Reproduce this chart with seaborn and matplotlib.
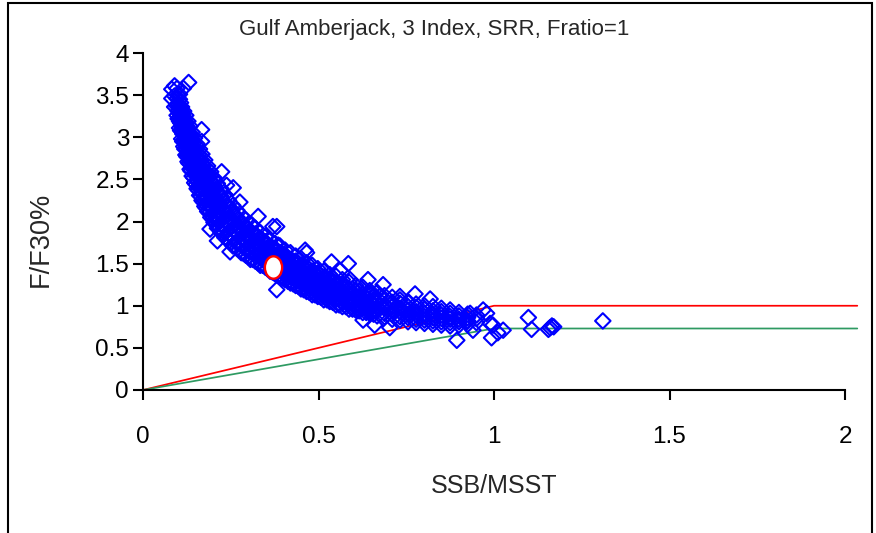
import numpy as np
import pandas as pd
import matplotlib
matplotlib.use("Agg")
import matplotlib.pyplot as plt
from matplotlib.path import Path
from matplotlib.patches import Rectangle
from matplotlib.ticker import FuncFormatter
import seaborn as sns

# ---------------- data ----------------
title = "Gulf Amberjack, 3 Index, SRR, Fratio=1"
x_label = "SSB/MSST"
y_label = "F/F30%"

# Monte-Carlo cloud, grouped by SSB/MSST column: F/F30% values at each column
col_ssb = [0.082, 0.090, 0.097, 0.104, 0.110, 0.116, 0.122, 0.128, 0.134, 0.140,
           0.147, 0.154, 0.161, 0.168, 0.176, 0.184, 0.193, 0.202, 0.212, 0.222,
           0.233, 0.244, 0.256, 0.268, 0.280, 0.293, 0.306, 0.320, 0.334, 0.348,
           0.362, 0.376, 0.390, 0.405, 0.420, 0.435, 0.450, 0.466, 0.482, 0.498,
           0.515, 0.532, 0.550, 0.568, 0.587, 0.606, 0.626, 0.646, 0.667, 0.688,
           0.710, 0.732, 0.755, 0.778, 0.802, 0.826, 0.850, 0.875, 0.900, 0.925,
           0.950]
col_f = [
    [3.46, 3.57],
    [3.36, 3.49, 3.61],
    [3.26, 3.37, 3.46, 3.58],
    [3.11, 3.19, 3.28, 3.35, 3.45, 3.51],
    [2.98, 3.07, 3.13, 3.22, 3.29, 3.36],
    [2.89, 2.97, 3.06, 3.13, 3.24, 3.31],
    [2.79, 2.90, 2.97, 3.08, 3.16, 3.26],
    [2.71, 2.80, 2.91, 2.99, 3.10, 3.19],
    [2.62, 2.73, 2.82, 2.93, 3.02, 3.13],
    [2.54, 2.64, 2.76, 2.85, 2.97, 3.06],
    [2.46, 2.58, 2.67, 2.79, 2.88, 2.99],
    [2.39, 2.49, 2.61, 2.70, 2.82, 2.92],
    [2.31, 2.43, 2.52, 2.64, 2.74, 2.86],
    [2.25, 2.35, 2.47, 2.56, 2.69, 2.80],
    [2.18, 2.30, 2.39, 2.51, 2.61, 2.73],
    [2.12, 2.22, 2.34, 2.43, 2.56, 2.66],
    [2.05, 2.17, 2.26, 2.38, 2.48, 2.59],
    [1.99, 2.09, 2.21, 2.30, 2.43, 2.52],
    [1.92, 2.04, 2.13, 2.25, 2.35, 2.45],
    [1.87, 1.97, 2.08, 2.18, 2.30, 2.39],
    [1.81, 1.92, 2.01, 2.13, 2.22, 2.32],
    [1.77, 1.85, 1.97, 2.05, 2.17, 2.25],
    [1.71, 1.82, 1.90, 2.01, 2.09, 2.19],
    [1.68, 1.76, 1.87, 1.94, 2.05, 2.13],
    [1.63, 1.73, 1.80, 1.91, 1.98, 2.07],
    [1.60, 1.67, 1.77, 1.84, 1.94, 2.02],
    [1.55, 1.64, 1.71, 1.81, 1.88, 1.97],
    [1.53, 1.59, 1.68, 1.75, 1.85, 1.92],
    [1.48, 1.57, 1.63, 1.72, 1.79, 1.87],
    [1.46, 1.52, 1.61, 1.67, 1.76, 1.82],
    [1.41, 1.50, 1.56, 1.65, 1.70, 1.78],
    [1.38, 1.45, 1.53, 1.60, 1.68, 1.74],
    [1.34, 1.42, 1.48, 1.57, 1.63, 1.71],
    [1.31, 1.37, 1.46, 1.52, 1.60, 1.66],
    [1.27, 1.35, 1.41, 1.49, 1.55, 1.63],
    [1.24, 1.30, 1.39, 1.44, 1.53, 1.59],
    [1.20, 1.28, 1.34, 1.42, 1.48, 1.56],
    [1.17, 1.23, 1.32, 1.37, 1.46, 1.51],
    [1.13, 1.21, 1.27, 1.35, 1.41, 1.48],
    [1.11, 1.16, 1.25, 1.30, 1.39, 1.44],
    [1.07, 1.14, 1.20, 1.28, 1.34, 1.41],
    [1.05, 1.10, 1.18, 1.23, 1.32, 1.37],
    [1.01, 1.08, 1.14, 1.21, 1.27, 1.35],
    [0.99, 1.04, 1.12, 1.17, 1.25, 1.31],
    [0.96, 1.03, 1.08, 1.15, 1.20, 1.28],
    [0.95, 0.99, 1.06, 1.11, 1.18, 1.24],
    [0.92, 0.98, 1.03, 1.09, 1.14, 1.22],
    [0.91, 0.95, 1.01, 1.06, 1.13, 1.18],
    [0.88, 0.94, 0.98, 1.04, 1.09, 1.16],
    [0.87, 0.91, 0.97, 1.01, 1.08, 1.12],
    [0.84, 0.90, 0.94, 0.99, 1.04, 1.10],
    [0.83, 0.87, 0.93, 0.97, 1.03, 1.07],
    [0.81, 0.86, 0.90, 0.95, 0.99, 1.05],
    [0.80, 0.84, 0.89, 0.93, 0.98, 1.02],
    [0.79, 0.83, 0.87, 0.91, 0.96, 1.00],
    [0.78, 0.82, 0.86, 0.90, 0.94, 0.99],
    [0.77, 0.81, 0.85, 0.89, 0.93, 0.97],
    [0.76, 0.80, 0.84, 0.87, 0.91, 0.95],
    [0.77, 0.81, 0.84, 0.88, 0.92],
    [0.78, 0.82, 0.86, 0.90],
    [0.80, 0.85, 0.89],
]

# second pass of runs lying between the columns above (dense core of the cloud)
mid_ssb = [0.100, 0.107, 0.113, 0.119, 0.125, 0.131, 0.137, 0.144, 0.151, 0.158,
           0.165, 0.172, 0.180, 0.189, 0.198, 0.207, 0.217, 0.228, 0.239, 0.250,
           0.262, 0.274, 0.287, 0.300, 0.313, 0.327, 0.341, 0.355, 0.369, 0.383,
           0.398, 0.413, 0.428, 0.443, 0.458, 0.474, 0.490, 0.507, 0.524, 0.541,
           0.559, 0.578, 0.597, 0.616, 0.636, 0.657]
mid_f = [
    [3.22, 3.31, 3.40, 3.50],
    [3.08, 3.17, 3.25, 3.33, 3.41],
    [2.95, 3.04, 3.11, 3.19, 3.27],
    [2.86, 2.94, 3.03, 3.11, 3.20],
    [2.77, 2.86, 2.95, 3.04, 3.13],
    [2.69, 2.78, 2.87, 2.96, 3.06],
    [2.60, 2.70, 2.80, 2.90, 2.99],
    [2.52, 2.62, 2.72, 2.83, 2.93],
    [2.44, 2.55, 2.65, 2.76, 2.86],
    [2.37, 2.47, 2.58, 2.69, 2.79],
    [2.30, 2.41, 2.51, 2.62, 2.73],
    [2.23, 2.34, 2.44, 2.55, 2.66],
    [2.16, 2.27, 2.37, 2.48, 2.59],
    [2.10, 2.20, 2.31, 2.41, 2.52],
    [2.03, 2.14, 2.24, 2.35, 2.45],
    [1.97, 2.08, 2.18, 2.28, 2.38],
    [1.91, 2.01, 2.11, 2.22, 2.32],
    [1.85, 1.95, 2.05, 2.15, 2.25],
    [1.80, 1.90, 1.99, 2.09, 2.19],
    [1.75, 1.84, 1.94, 2.03, 2.12],
    [1.71, 1.80, 1.89, 1.98, 2.07],
    [1.66, 1.75, 1.84, 1.93, 2.01],
    [1.62, 1.71, 1.79, 1.88, 1.96],
    [1.58, 1.67, 1.75, 1.83, 1.91],
    [1.55, 1.63, 1.71, 1.79, 1.86],
    [1.51, 1.59, 1.66, 1.74, 1.82],
    [1.48, 1.56, 1.63, 1.70, 1.78],
    [1.44, 1.52, 1.59, 1.66, 1.73],
    [1.40, 1.48, 1.55, 1.62, 1.69],
    [1.36, 1.44, 1.51, 1.58, 1.65],
    [1.33, 1.40, 1.47, 1.54, 1.61],
    [1.29, 1.36, 1.43, 1.50, 1.57],
    [1.26, 1.33, 1.40, 1.47, 1.53],
    [1.23, 1.30, 1.36, 1.43, 1.50],
    [1.19, 1.26, 1.33, 1.40, 1.46],
    [1.16, 1.23, 1.30, 1.36, 1.43],
    [1.13, 1.19, 1.26, 1.33, 1.39],
    [1.10, 1.16, 1.23, 1.29, 1.36],
    [1.07, 1.13, 1.20, 1.26, 1.33],
    [1.04, 1.10, 1.17, 1.23, 1.29],
    [1.01, 1.08, 1.14, 1.20, 1.26],
    [0.99, 1.05, 1.11, 1.17, 1.23],
    [0.96, 1.02, 1.08, 1.14, 1.20],
    [0.94, 1.00, 1.06, 1.11, 1.17],
    [0.92, 0.98, 1.03, 1.09, 1.14],
    [0.90, 0.95, 1.01, 1.06, 1.11],
]

# scattered outlying runs
out_ssb = [0.130, 0.115, 0.167, 0.167, 0.224, 0.238, 0.257, 0.276, 0.310, 0.328,
           0.370, 0.381, 0.385, 0.191, 0.212, 0.248, 0.462, 0.466, 0.537, 0.585,
           0.562, 0.590, 0.641, 0.684, 0.647, 0.775, 0.818, 0.675, 0.732, 0.381,
           0.627, 0.660, 0.703, 0.894, 0.989, 0.993, 1.011, 1.026, 0.997, 0.969,
           0.979, 0.932, 0.922, 0.940, 1.098, 1.107, 1.155, 1.160, 1.165, 1.170,
           1.310]
out_f = [3.65, 3.58, 3.09, 2.95, 2.59, 2.43, 2.40, 2.23, 1.96, 2.06,
         1.94, 1.94, 1.72, 1.91, 1.77, 1.64, 1.66, 1.63, 1.52, 1.50,
         1.42, 1.31, 1.31, 1.25, 1.15, 1.14, 1.08, 1.11, 1.11, 1.19,
         0.83, 0.77, 0.74, 0.59, 0.79, 0.62, 0.68, 0.71, 0.77, 0.95,
         0.91, 0.91, 0.81, 0.71, 0.86, 0.72, 0.72, 0.74, 0.76, 0.75,
         0.82]

# current status point
status_ssb = [0.37]
status_f = [1.46]

# control-rule reference lines
ref_ssb = [0.0, 1.0, 2.035]
ref_red = [0.0, 1.0, 1.0]
ref_green = [0.0, 0.73, 0.73]

x_ticks = [0, 0.5, 1, 1.5, 2]
y_ticks = [0, 0.5, 1, 1.5, 2, 2.5, 3, 3.5, 4]

# ---------------- build tables ----------------
cloud_x, cloud_y = [], []
for xs, fs in ((col_ssb, col_f), (mid_ssb, mid_f)):
    for xv, ys in zip(xs, fs):
        for yv in ys:
            cloud_x.append(xv)
            cloud_y.append(yv)
cloud = pd.DataFrame({"ssb": cloud_x + out_ssb, "f": cloud_y + out_f})
status = pd.DataFrame({"ssb": status_ssb, "f": status_f})
lines = pd.DataFrame({"ssb": ref_ssb, "red": ref_red, "green": ref_green})

# ---------------- style ----------------
sns.set_theme(style="ticks")
plt.rcParams["font.family"] = ["Liberation Sans", "DejaVu Sans"]

fig = plt.figure(figsize=(8.76, 5.33), dpi=100)
ax = fig.add_axes([143 / 876, 1 - 390 / 533, (845 - 143) / 876, (390 - 53) / 533])

sns.lineplot(data=lines, x="ssb", y="red", ax=ax, color="#ff0000", lw=1.25,
             sort=False, estimator=None, clip_on=False, zorder=2)
sns.lineplot(data=lines, x="ssb", y="green", ax=ax, color="#2e9a62", lw=1.25,
             sort=False, estimator=None, clip_on=False, zorder=2)

sns.scatterplot(data=cloud, x="ssb", y="f", ax=ax, marker="D", s=62,
                edgecolor="#0000ff", linewidth=1.5, zorder=3, clip_on=False)
ax.collections[-1].set_facecolor("none")
ax.collections[-1].set_edgecolor("#0000ff")

ell = Path.unit_circle().transformed(matplotlib.transforms.Affine2D().scale(0.77, 1.0))
sns.scatterplot(data=status, x="ssb", y="f", ax=ax, marker=ell, s=260,
                color="white", edgecolor="#ff0000", linewidth=1.7, zorder=4)

ax.set_xlim(0, 2)
ax.set_ylim(0, 4)
ax.set_xticks(x_ticks)
ax.set_yticks(y_ticks)
fmt = FuncFormatter(lambda v, p: f"{v:g}")
ax.xaxis.set_major_formatter(fmt)
ax.yaxis.set_major_formatter(fmt)
ax.set_xlabel("")
ax.set_ylabel("")
for s in ["top", "right"]:
    ax.spines[s].set_visible(False)
for s in ["left", "bottom"]:
    ax.spines[s].set_linewidth(1.5)
    ax.spines[s].set_color("black")
ax.tick_params(axis="both", direction="out", length=7, width=1.5, colors="black",
               labelsize=17.5)
ax.tick_params(axis="x", pad=19)
ax.tick_params(axis="y", pad=3)

fig.text(494 / 876, 1 - 486 / 533, x_label, ha="center", va="center", fontsize=18)
fig.text(41 / 876, 1 - 239 / 533, y_label, ha="center", va="center", fontsize=19.5,
         rotation=90)
fig.text(434 / 876, 1 - 29 / 533, title, ha="center", va="center", fontsize=16)

fig.add_artist(Rectangle((8 / 876, -0.05), (872 - 8) / 876, 1.05 - 3 / 533,
                         transform=fig.transFigure, fill=False, edgecolor="black",
                         lw=1.5, clip_on=False))

fig.savefig("out.png", dpi=100)
